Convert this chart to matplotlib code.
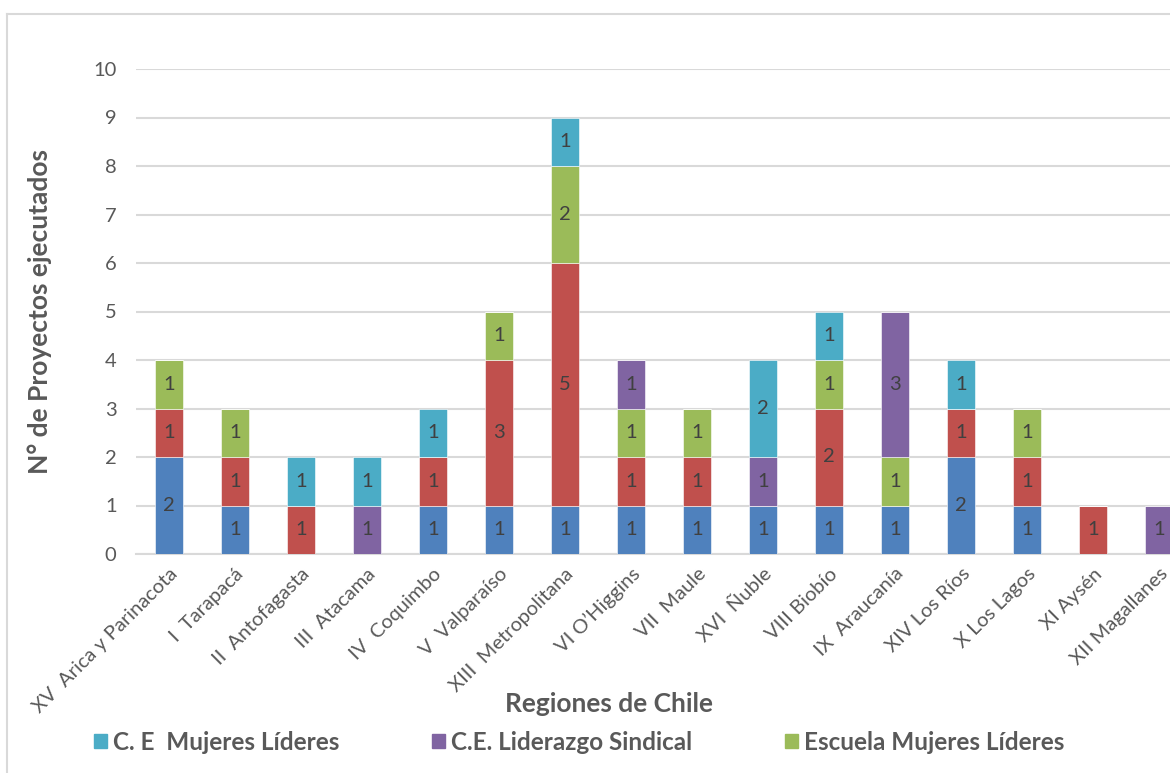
import numpy as np
import matplotlib.pyplot as plt
from matplotlib.patches import Patch
from matplotlib.lines import Line2D

plt.rcParams['font.family'] = ['Lato', 'DejaVu Sans']

regiones = ['XV  Arica y Parinacota', 'I  Tarapacá', 'II  Antofagasta', 'III  Atacama',
            'IV  Coquimbo', 'V  Valparaíso', 'XIII  Metropolitana', 'VI O\u2019Higgins',
            'VII  Maule', 'XVI  Ñuble', 'VIII Biobío', 'IX  Araucanía', 'XIV Los Ríos',
            'X Los Lagos', 'XI Aysén', 'XII Magallanes']

# orden de apilado: azul, rojo, verde, morado, celeste
azul = [2, 1, 0, 0, 1, 1, 1, 1, 1, 1, 1, 1, 2, 1, 0, 0]
rojo = [1, 1, 1, 0, 1, 3, 5, 1, 1, 0, 2, 0, 1, 1, 1, 0]
escuela = [1, 1, 0, 0, 0, 1, 2, 1, 1, 0, 1, 1, 0, 1, 0, 0]
sindical = [0, 0, 0, 1, 0, 0, 0, 1, 0, 1, 0, 3, 0, 0, 0, 1]
ce_mujeres = [0, 0, 1, 1, 1, 0, 1, 0, 0, 2, 1, 0, 1, 0, 0, 0]

series = [azul, rojo, escuela, sindical, ce_mujeres]
colores = ['#4F81BD', '#C0504D', '#9BBB59', '#8064A2', '#4BACC6']

gris = '#595959'

fig = plt.figure(figsize=(11.7, 7.73), dpi=100)
ax = fig.add_axes([136/1170, 1 - 554/773, (1192 - 136)/1170, (554 - 69)/773])

x = np.arange(len(regiones))
base = np.zeros(len(regiones))
for vals, col in zip(series, colores):
    vals = np.array(vals)
    barras = ax.bar(x, vals, 0.41, bottom=base, color=col, edgecolor='white', linewidth=0.4, zorder=3)
    etiquetas = [str(v) if v > 0 else '' for v in vals]
    ax.bar_label(barras, labels=etiquetas, label_type='center', fontsize=14.5, color='#404040')
    base += vals

ax.set_xlim(-0.5, 15.5)
ax.set_ylim(0, 10)
ax.set_yticks(range(0, 11))
ax.yaxis.grid(True, color='#d9d9d9', linewidth=1.5, zorder=0)
ax.set_axisbelow(True)
for s in ['top', 'right', 'left']:
    ax.spines[s].set_visible(False)
ax.spines['bottom'].set_color('#d9d9d9')
ax.spines['bottom'].set_linewidth(1.5)
ax.tick_params(axis='both', length=0, colors=gris, labelsize=14.5)
ax.tick_params(axis='y', pad=14)
ax.set_xticks(x)
ax.set_xticklabels(regiones, rotation=45, ha='right', rotation_mode='anchor', fontsize=14.5)
ax.tick_params(axis='x', pad=8)

fig.text(40/1170, 1 - 311/773, 'N° de Proyectos ejecutados', rotation=90, ha='center', va='center',
         fontsize=19, fontweight='bold', color=gris)
fig.text(609/1170, 1 - 704/773, 'Regiones de Chile', ha='center', va='center',
         fontsize=19, fontweight='bold', color=gris)

# marco del gráfico
fig.add_artist(Line2D([7/1170, 7/1170], [0, 1 - 14/773], transform=fig.transFigure, color='#d9d9d9', lw=1.5))
fig.add_artist(Line2D([7/1170, 1], [1 - 14/773, 1 - 14/773], transform=fig.transFigure, color='#d9d9d9', lw=1.5))

handles = [Patch(color='#4BACC6', label='C. E  Mujeres Líderes'),
           Patch(color='#8064A2', label='C.E. Liderazgo Sindical'),
           Patch(color='#9BBB59', label='Escuela Mujeres Líderes')]
leg = fig.legend(handles=handles, loc='center', bbox_to_anchor=(579/1170, 1 - 742/773), ncol=3,
                 frameon=False, handlelength=0.55, handleheight=0.55, handletextpad=0.25,
                 columnspacing=3.8, prop={'size': 17.5, 'weight': 'bold'})
for t in leg.get_texts():
    t.set_color(gris)

fig.savefig('out.png', dpi=100)
